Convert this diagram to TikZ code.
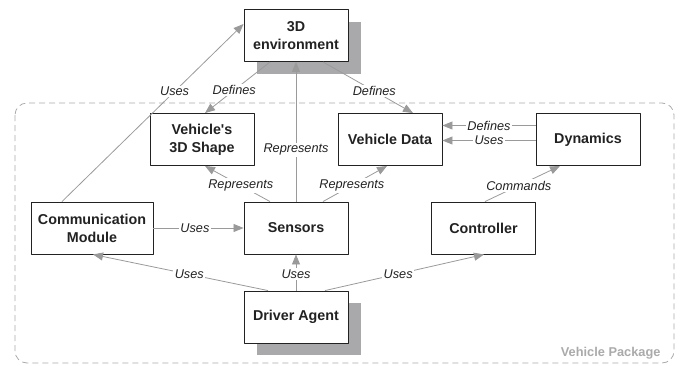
\documentclass[tikz,border=0pt]{standalone}
\usepackage{fontspec}
\setmainfont{Liberation Sans}
\usetikzlibrary{arrows.meta,shadows}

\definecolor{linegray}{HTML}{9A9A9A}
\definecolor{shadowgray}{HTML}{A9A9AB}
\definecolor{framegray}{HTML}{AAAAAA}
\definecolor{textdark}{HTML}{222222}

\begin{document}
\begin{tikzpicture}[x=1pt,y=-1pt,line join=round,
	box/.style={draw=textdark,line width=0.9pt,fill=white,inner sep=0pt,
		minimum width=104pt,minimum height=52pt,align=center,text=textdark,
		font=\fontsize{14.3}{18}\selectfont\bfseries},
	shadowbox/.style={box,drop shadow={shadow xshift=12.5pt,shadow yshift=-12pt,
		fill=shadowgray,opacity=1}},
	link/.style={draw=linegray,line width=0.8pt,-{Triangle[length=10pt,width=8pt]}},
	lbl/.style={fill=white,inner sep=1.5pt,text=textdark,
		font=\fontsize{12.7}{14}\selectfont\itshape}]
	\useasboundingbox (0,0) rectangle (680,365);

	% package frame
	\draw[framegray,line width=0.8pt,dash pattern=on 6pt off 4pt,rounded corners=12pt]
	(15,103) rectangle (674,363);
	\node[anchor=base east,text=framegray,font=\fontsize{12.8}{14}\selectfont\bfseries]
	(pkg) at (664,356) {Vehicle Package};

	% blocks
	\node[shadowbox] (env) at (296,35.5) {3D\\environment};
	\node[box] (shape) at (202,139.5) {Vehicle\textquotesingle s\\3D Shape};
	\node[box] (vdata) at (390,139.5) {Vehicle Data};
	\node[box] (dyn) at (588,139.5) {Dynamics};
	\node[box,minimum width=122pt] (comm) at (92,228) {Communication\\Module};
	\node[box] (sens) at (296,228) {Sensors};
	\node[box] (ctrl) at (483.5,228) {Controller};
	\node[shadowbox] (driver) at (296,317) {Driver Agent};

	% relations
	\draw[link] ([shift={(-30,0)}]comm.north) -- node[lbl,pos=0.62] {Uses} ([shift={(0,-11.5)}]env.west);
	\draw[link] ([shift={(-26,0)}]env.south) -- node[lbl,pos=0.55] {Defines} ([shift={(3,0)}]shape.north);
	\draw[link] ([shift={(27,0)}]env.south) -- node[lbl,pos=0.57] {Defines} ([shift={(23,0)}]vdata.north);
	\draw[link] (sens.north) -- node[lbl,pos=0.37] {Represents} (env.south);
	\draw[link] ([shift={(-26,0)}]sens.north) -- node[lbl,pos=0.45] {Represents} ([shift={(3,0)}]shape.south);
	\draw[link] ([shift={(27,0)}]sens.north) -- node[lbl,pos=0.45] {Represents} ([shift={(-3,0)}]vdata.south);
	\draw[link] ([shift={(1.5,0)}]ctrl.north) -- node[lbl,pos=0.45] {Commands} ([shift={(-28,0)}]dyn.south);
	\draw[link] ([shift={(0,-14)}]dyn.west) -- node[lbl] {Defines} ([shift={(0,-14)}]vdata.east);
	\draw[link] ([shift={(0,1)}]dyn.west) -- node[lbl] {Uses} ([shift={(0,1)}]vdata.east);
	\draw[link] (comm.east) -- node[lbl,pos=0.46] {Uses} (sens.west);
	\draw[link] ([shift={(-28,0)}]driver.north) -- node[lbl,pos=0.45] {Uses} ([shift={(1,0)}]comm.south);
	\draw[link] (driver.north) -- node[lbl,pos=0.45] {Uses} (sens.south);
	\draw[link] ([shift={(29,0)}]driver.north) -- node[lbl,pos=0.46] {Uses} ([shift={(0.5,0)}]ctrl.south);
\end{tikzpicture}
\end{document}
